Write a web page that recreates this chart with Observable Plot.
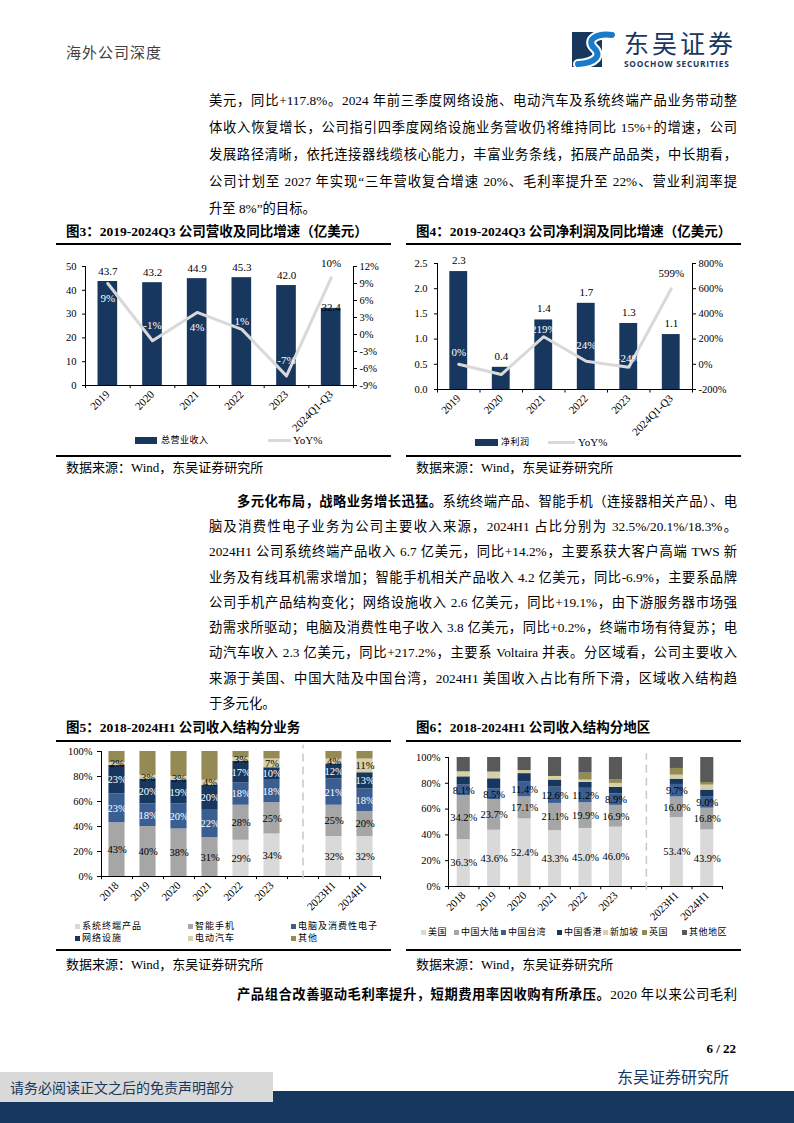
<!DOCTYPE html>
<html lang="zh-CN">
<head>
<meta charset="utf-8">
<script src="https://cdn.jsdelivr.net/npm/d3@7"></script>
<script src="https://cdn.jsdelivr.net/npm/@observablehq/plot@0.6"></script>
<style>
html,body{margin:0;padding:0;background:#fff}
body{width:794px;height:1123px;position:relative;overflow:hidden;font-family:"Liberation Serif","Noto Sans CJK SC",serif;color:#000}
.a{position:absolute;white-space:nowrap}
.ln{position:absolute;left:209px;width:528px;height:20px;line-height:20px;font-size:13.3px;text-align:justify;text-align-last:justify;overflow:visible}
.ln.ind{left:237px;width:500px}
.ln.end{text-align-last:left}
.ft{position:absolute;font-size:13.5px;font-weight:bold;line-height:18px;white-space:nowrap}
.rule{position:absolute;height:2px;background:#000}
.src{position:absolute;font-size:13px;line-height:18px;white-space:nowrap}
.lg{position:absolute;font-family:"Noto Sans CJK SC",sans-serif;font-size:9px;line-height:12px;white-space:nowrap;color:#000}
.lgs{position:absolute;font-family:"Liberation Serif",serif;font-size:11px;line-height:12px;white-space:nowrap}
.sw{position:absolute;width:5px;height:5px}
.chart{position:absolute;width:340px}
</style>
</head>
<body>
<script>
// ---------------- data ----------------
// 图3 营收
const years3 = ["2019","2020","2021","2022","2023","2024Q1-Q3"];
const revenue = [43.7, 43.2, 44.9, 45.3, 42.0, 32.4];
const revenueYoY = [9, -1.1, 3.9, 0.9, -7.3, 10];
const revenueAxisRight = [-9, -6, -3, 0, 3, 6, 9, 12];
// 图4 净利润
const netProfit = [2.34, 0.44, 1.38, 1.71, 1.31, 1.09];
const netProfitYoY = [0, -81, 219, 24, -24, 599];
const netProfitAxisRight = [-200, 0, 200, 400, 600, 800];
// 图5 分业务
const periods = ["2018","2019","2020","2021","2022","2023","2023H1","2024H1"];
const segSeries = ["系统终端产品","智能手机","电脑及消费性电子","网络设施","电动汽车","其他"];
const segSystem  = [0, 0, 0, 0, 29, 34, 32, 32];
const segPhone   = [43, 40, 38, 31, 28, 25, 25, 20];
const segPC      = [23, 18, 20, 22, 18, 18, 21, 18];
const segNetwork = [23, 20, 19, 20, 17, 10, 12, 13];
const segEV      = [2, 3, 3, 4, 3, 7, 4, 11];
const segOther   = [9, 19, 20, 23, 5, 6, 6, 6];
// 图6 分地区
const regSeries = ["美国","中国大陆","中国台湾","中国香港","新加坡","英国","其他地区"];
const regUS    = [36.3, 43.6, 52.4, 43.3, 45.0, 46.0, 53.4, 43.9];
const regCN    = [34.2, 23.7, 17.1, 21.1, 19.9, 16.9, 16.0, 16.8];
const regTW    = [8.1, 8.5, 11.4, 12.6, 11.2, 8.9, 9.7, 9.0];
const regHK    = [6.4, 7.7, 6.6, 5.5, 4.6, 5.0, 4.1, 5.0];
const regSG    = [3.9, 5.2, 2.4, 2.8, 1.8, 3.1, 3.1, 3.9];
const regUK    = [0, 0, 0, 0, 5.4, 2.6, 5.2, 2.0];
const regOther = [11.1, 11.3, 10.1, 14.7, 12.1, 17.5, 8.5, 19.4];
const pctTicks = [0, 20, 40, 60, 80, 100];

// ---------------- styles ----------------
const navy = "#17375E", blue = "#3A5E92", light = "#D9D9D9", gray = "#A6A6A6",
      beige = "#D7CFA5", olive = "#948A54", dark = "#595959", lineGray = "#D9D9D9";
const serif = "'Liberation Serif','Noto Sans CJK SC',serif";
const GAP = "__gap__";
</script>

<!-- header -->
<div class="a" style="left:66px;top:42px;font-family:'Noto Sans CJK SC';font-size:15px;letter-spacing:1px;color:#404040;line-height:20px">海外公司深度</div>
<svg class="a" style="left:572px;top:28px" width="46" height="44">
  <rect x="0" y="4" width="30" height="35" fill="#17375E"/>
  <path d="M40 7 C24 5 14 12 22 20 C30 27 24 35 6 36" fill="none" stroke="#fff" stroke-width="10" stroke-linecap="round"/>
  <path d="M40 7 C24 5 14 12 22 20 C30 27 24 35 6 36" fill="none" stroke="#1B7BC9" stroke-width="6" stroke-linecap="round"/>
</svg>
<div class="a" style="left:624px;top:29px;font-family:'Noto Sans CJK SC';font-size:25px;line-height:26px;letter-spacing:3px;color:#17375E">东吴证券</div>
<div class="a" style="left:624px;top:59px;font-family:'Open Sans',sans-serif;font-weight:700;font-size:8.3px;line-height:10px;letter-spacing:0.75px;color:#17375E">SOOCHOW SECURITIES</div>

<!-- paragraph 1 -->
<div class="ln" style="top:91px">美元，同比+117.8%。2024 年前三季度网络设施、电动汽车及系统终端产品业务带动整</div>
<div class="ln" style="top:118px">体收入恢复增长，公司指引四季度网络设施业务营收仍将维持同比 15%+的增速，公司</div>
<div class="ln" style="top:145px">发展路径清晰，依托连接器线缆核心能力，丰富业务条线，拓展产品品类，中长期看，</div>
<div class="ln" style="top:172px">公司计划至 2027 年实现“三年营收复合增速 20%、毛利率提升至 22%、营业利润率提</div>
<div class="ln end" style="top:199px">升至 8%”的目标。</div>

<!-- figure 3/4 titles -->
<div class="ft" style="left:66px;top:223px">图3：2019-2024Q3 公司营收及同比增速（亿美元）</div>
<div class="ft" style="left:416px;top:223px">图4：2019-2024Q3 公司净利润及同比增速（亿美元）</div>
<div class="rule" style="left:56px;top:243px;width:335px"></div>
<div class="rule" style="left:406px;top:243px;width:335px"></div>

<div class="chart" id="fig3" style="left:57px;top:250px"></div>
<div class="chart" id="fig4" style="left:405px;top:250px"></div>

<!-- legends 3/4 -->
<div class="a" style="left:135px;top:437px;width:22px;height:7px;background:#17375E"></div>
<div class="lg" style="left:161px;top:434px;letter-spacing:0.5px">总营业收入</div>
<div class="a" style="left:268px;top:439px;width:23px;height:3px;background:#D9D9D9"></div>
<div class="lgs" style="left:293px;top:434px">YoY%</div>

<div class="a" style="left:475px;top:439px;width:23px;height:7px;background:#17375E"></div>
<div class="lg" style="left:501px;top:436px;letter-spacing:0.5px">净利润</div>
<div class="a" style="left:548px;top:441px;width:27px;height:3px;background:#D9D9D9"></div>
<div class="lgs" style="left:578px;top:436px">YoY%</div>

<div class="rule" style="left:56px;top:455px;width:335px"></div>
<div class="rule" style="left:406px;top:455px;width:335px"></div>
<div class="src" style="left:66px;top:459px">数据来源：Wind，东吴证券研究所</div>
<div class="src" style="left:416px;top:459px">数据来源：Wind，东吴证券研究所</div>

<!-- paragraph 2 -->
<div class="ln ind" style="top:492px"><b>多元化布局，战略业务增长迅猛。</b>系统终端产品、智能手机（连接器相关产品）、电</div>
<div class="ln" style="top:517px">脑及消费性电子业务为公司主要收入来源，2024H1 占比分别为 32.5%/20.1%/18.3%。</div>
<div class="ln" style="top:542px">2024H1 公司系统终端产品收入 6.7 亿美元，同比+14.2%，主要系获大客户高端 TWS 新</div>
<div class="ln" style="top:568px">业务及有线耳机需求增加；智能手机相关产品收入 4.2 亿美元，同比-6.9%，主要系品牌</div>
<div class="ln" style="top:593px">公司手机产品结构变化；网络设施收入 2.6 亿美元，同比+19.1%，由下游服务器市场强</div>
<div class="ln" style="top:618px">劲需求所驱动；电脑及消费性电子收入 3.8 亿美元，同比+0.2%，终端市场有待复苏；电</div>
<div class="ln" style="top:643px">动汽车收入 2.3 亿美元，同比+217.2%，主要系 Voltaira 并表。分区域看，公司主要收入</div>
<div class="ln" style="top:669px">来源于美国、中国大陆及中国台湾，2024H1 美国收入占比有所下滑，区域收入结构趋</div>
<div class="ln end" style="top:694px">于多元化。</div>

<!-- figure 5/6 titles -->
<div class="ft" style="left:66px;top:719px">图5：2018-2024H1 公司收入结构分业务</div>
<div class="ft" style="left:416px;top:719px">图6：2018-2024H1 公司收入结构分地区</div>
<div class="rule" style="left:56px;top:740px;width:335px"></div>
<div class="rule" style="left:406px;top:740px;width:335px"></div>

<div class="chart" id="fig5" style="left:57px;top:745px"></div>
<div class="chart" id="fig6" style="left:405px;top:750px"></div>
<div id="leg5"></div>
<div id="leg6"></div>

<div class="rule" style="left:56px;top:949px;width:335px"></div>
<div class="rule" style="left:406px;top:949px;width:335px"></div>
<div class="src" style="left:66px;top:956px">数据来源：Wind，东吴证券研究所</div>
<div class="src" style="left:416px;top:956px">数据来源：Wind，东吴证券研究所</div>

<div class="ln ind" style="top:985px"><b>产品组合改善驱动毛利率提升，短期费用率因收购有所承压。</b>2020 年以来公司毛利</div>

<!-- footer -->
<div class="a" style="left:690px;top:1040px;width:46px;text-align:right;font-size:13px;font-weight:bold;line-height:18px">6 / 22</div>
<div class="a" style="left:0;top:1091px;width:794px;height:32px;background:#17375E"></div>
<div class="a" style="left:0;top:1072px;width:273px;height:30px;background:#D9D9D9"></div>
<div class="a" style="left:10px;top:1078px;font-family:'Noto Sans CJK SC';font-size:14px;line-height:18px;color:#17375E">请务必阅读正文之后的免责声明部分</div>
<div class="a" style="left:617px;top:1066px;font-family:'Noto Sans CJK SC';font-size:16px;line-height:20px;color:#17375E">东吴证券研究所</div>

<script>
const baseStyle = {fontFamily: serif, fontSize: "10.5px", background: "transparent", overflow: "visible", color: "#000"};

// ---------- Figure 3 ----------
{
  const rows = years3.map((year, i) => ({year, value: revenue[i], yoy: revenueYoY[i]}));
  const W = 340, H = 185, ml = 28, mr = 44, mt = 16, mb = 50;
  const n = years3.length, step = (W - ml - mr) / n;
  const r0 = revenueAxisRight[0], r1 = revenueAxisRight[revenueAxisRight.length - 1];
  const toL = v => (v - r0) / (r1 - r0) * 50;
  const fromL = v => v / 50 * (r1 - r0) + r0;
  const yoyText = (idx, dy, fill) => Plot.text(rows.filter((d, i) => idx.includes(i)),
    {x: "year", y: d => toL(d.yoy), text: d => Math.round(d.yoy) + "%", dy, fill, fontSize: 11});
  const chart = Plot.plot({
    width: W, height: H, marginLeft: ml, marginRight: mr, marginTop: mt, marginBottom: mb,
    style: baseStyle,
    x: {domain: years3, paddingInner: 0.56, paddingOuter: 0.28, round: false, label: null},
    y: {domain: [0, 50], label: null},
    marks: [
      Plot.barY(rows, {x: "year", y: "value", fill: navy}),
      Plot.ruleY([0], {stroke: "#000"}),
      Plot.ruleX([years3[0]], {dx: -step / 2, stroke: "#000"}),
      Plot.ruleX([years3[n - 1]], {dx: step / 2, stroke: "#000"}),
      Plot.ruleX(years3, {dx: -step / 2, y1: 0, y2: -1.3, stroke: "#000"}),
      Plot.ruleX([years3[n - 1]], {dx: step / 2, y1: 0, y2: -1.3, stroke: "#000"}),
      Plot.line(rows, {x: "year", y: d => toL(d.yoy), stroke: lineGray, strokeWidth: 3}),
      Plot.text(rows.slice(0, n - 1), {x: "year", y: "value", text: d => d.value.toFixed(1), dy: -10, fontSize: 11}),
      Plot.text(rows.slice(n - 1), {x: "year", y: "value", text: d => d.value.toFixed(1), dy: -1, fontSize: 11}),
      yoyText([0, 2], 15, "#fff"),
      yoyText([1, 4], -15, "#fff"),
      yoyText([3], -8, "#fff"),
      yoyText([5], -14, "#000"),
      Plot.axisY({anchor: "left", ticks: [0, 10, 20, 30, 40, 50], tickSize: 3, tickPadding: 6}),
      Plot.axisY({anchor: "right", ticks: revenueAxisRight.map(toL), tickFormat: v => Math.round(fromL(v)) + "%", tickSize: 3, tickPadding: 3}),
      Plot.axisX({tickRotate: -45, tickSize: 0, tickPadding: 7, fontSize: 11})
    ]
  });
  document.getElementById("fig3").append(chart);
}

// ---------- Figure 4 ----------
{
  const rows = years3.map((year, i) => ({year, value: netProfit[i], yoy: netProfitYoY[i]}));
  const W = 340, H = 190, ml = 32, mr = 53, mt = 13, mb = 51;
  const n = years3.length, step = (W - ml - mr) / n;
  const r0 = netProfitAxisRight[0], r1 = netProfitAxisRight[netProfitAxisRight.length - 1];
  const toL = v => (v - r0) / (r1 - r0) * 2.5;
  const fromL = v => v / 2.5 * (r1 - r0) + r0;
  const yoyText = (idx, dy, fill) => Plot.text(rows.filter((d, i) => idx.includes(i)),
    {x: "year", y: d => toL(d.yoy), text: d => Math.round(d.yoy) + "%", dy, fill, fontSize: 11});
  const chart = Plot.plot({
    width: W, height: H, marginLeft: ml, marginRight: mr, marginTop: mt, marginBottom: mb,
    style: baseStyle,
    x: {domain: years3, paddingInner: 0.58, paddingOuter: 0.29, round: false, label: null},
    y: {domain: [0, 2.5], label: null},
    marks: [
      Plot.barY(rows, {x: "year", y: "value", fill: navy}),
      Plot.ruleY([0], {stroke: "#000"}),
      Plot.ruleX([years3[0]], {dx: -step / 2, stroke: "#000"}),
      Plot.ruleX([years3[n - 1]], {dx: step / 2, stroke: "#000"}),
      Plot.ruleX(years3, {dx: -step / 2, y1: 0, y2: -0.07, stroke: "#000"}),
      Plot.ruleX([years3[n - 1]], {dx: step / 2, y1: 0, y2: -0.07, stroke: "#000"}),
      Plot.line(rows, {x: "year", y: d => toL(d.yoy), stroke: lineGray, strokeWidth: 3}),
      Plot.text(rows, {x: "year", y: "value", text: d => d.value.toFixed(1), dy: -11, fontSize: 11}),
      yoyText([0], -12, "#fff"),
      yoyText([2], -7, "#fff"),
      yoyText([3], -16, "#fff"),
      yoyText([4], -9, "#fff"),
      yoyText([5], -15, "#000"),
      Plot.axisY({anchor: "left", ticks: [0, 0.5, 1, 1.5, 2, 2.5], tickFormat: d => d.toFixed(1), tickSize: 3, tickPadding: 7}),
      Plot.axisY({anchor: "right", ticks: netProfitAxisRight.map(toL), tickFormat: v => Math.round(fromL(v)) + "%", tickSize: 3, tickPadding: 3}),
      Plot.axisX({tickRotate: -45, tickSize: 0, tickPadding: 7, fontSize: 11})
    ]
  });
  document.getElementById("fig4").append(chart);
}

// ---------- stacked helper ----------
function stackedChart({series, arrays, colors, whiteSeries, blackSeries, digits, W, H, ml, mr, mt, mb, paddingInner, tickSize, tickPadding, dashY}) {
  const rows = periods.flatMap((p, i) => series.map((s, j) => ({period: p, series: s, value: arrays[j][i]})));
  const domain = [...periods.slice(0, 6), GAP, ...periods.slice(6)];
  const n = domain.length, step = (W - ml - mr) / n;
  const lbl = set => d => (d.value > 0 && set.includes(d.series)) ? d.value.toFixed(digits) + "%" : null;
  return Plot.plot({
    width: W, height: H, marginLeft: ml, marginRight: mr, marginTop: mt, marginBottom: mb,
    style: baseStyle,
    x: {domain, paddingInner, paddingOuter: paddingInner / 2, round: false, label: null},
    y: {domain: [0, 100], label: null},
    color: {domain: series, range: colors},
    marks: [
      Plot.barY(rows, {x: "period", y: "value", fill: "series"}),
      Plot.ruleY([0], {stroke: "#000"}),
      Plot.ruleX([domain[0]], {dx: -step / 2, stroke: "#000"}),
      Plot.ruleX(domain, {dx: -step / 2, y1: 0, y2: -2.5, stroke: "#000"}),
      Plot.ruleX([domain[n - 1]], {dx: step / 2, y1: 0, y2: -2.5, stroke: "#000"}),
      Plot.ruleX([GAP], {y1: dashY[0], y2: dashY[1], stroke: "#C8C8C8", strokeWidth: 1.5, strokeDasharray: "8,5"}),
      Plot.text(rows, Plot.stackY({x: "period", y: "value", z: "series", text: lbl(blackSeries), fill: "#000", fontSize: 10.5})),
      Plot.text(rows, Plot.stackY({x: "period", y: "value", z: "series", text: lbl(whiteSeries), fill: "#fff", fontSize: 10.5})),
      Plot.axisY({anchor: "left", ticks: pctTicks, tickFormat: d => d + "%", tickSize, tickPadding, fontSize: 10.5}),
      Plot.axisX({tickRotate: -45, tickSize: 0, tickPadding: 7, fontSize: 11, tickFormat: d => d === GAP ? "" : d})
    ]
  });
}

// ---------- Figure 5 ----------
document.getElementById("fig5").append(stackedChart({
  series: segSeries,
  arrays: [segSystem, segPhone, segPC, segNetwork, segEV, segOther],
  colors: [light, gray, blue, navy, beige, olive],
  whiteSeries: ["电脑及消费性电子", "网络设施"],
  blackSeries: ["系统终端产品", "智能手机", "电动汽车"],
  digits: 0,
  W: 340, H: 176, ml: 44, mr: 17, mt: 6, mb: 45, paddingInner: 0.48, tickSize: 4, tickPadding: 5,
  dashY: [-2, 105]
}));

// ---------- Figure 6 ----------
document.getElementById("fig6").append(stackedChart({
  series: regSeries,
  arrays: [regUS, regCN, regTW, regHK, regSG, regUK, regOther],
  colors: [light, gray, blue, navy, beige, olive, dark],
  whiteSeries: [],
  blackSeries: ["美国", "中国大陆", "中国台湾"],
  digits: 1,
  W: 340, H: 176, ml: 43, mr: 23, mt: 7, mb: 40, paddingInner: 0.57, tickSize: 3, tickPadding: 5,
  dashY: [-3, 103]
}));

// ---------- legends 5/6 ----------
function legend(targetId, series, colors, spots) {
  const host = document.getElementById(targetId);
  series.forEach((s, i) => {
    const [x, y, spacing] = spots[i];
    const sw = document.createElement("div");
    sw.className = "sw"; sw.style.left = x + "px"; sw.style.top = (y - 2.5) + "px"; sw.style.background = colors[i];
    const t = document.createElement("div");
    t.className = "lg"; t.style.left = (x + 7) + "px"; t.style.top = (y - 6) + "px"; t.style.letterSpacing = spacing + "px";
    t.textContent = s;
    host.append(sw, t);
  });
}
legend("leg5", segSeries, [light, gray, blue, navy, beige, olive],
  [[75, 926, 1], [188, 926, 1], [291, 926, 1], [75, 938, 1], [188, 938, 1], [291, 938, 1]]);
legend("leg6", regSeries, [light, gray, blue, navy, beige, olive, dark],
  [[421, 932, 0.5], [454, 932, 0.5], [501, 932, 0.5], [557, 932, 0.5], [603, 932, 0.5], [642, 932, 0.5], [682, 932, 0.5]]);
</script>
</body>
</html>
